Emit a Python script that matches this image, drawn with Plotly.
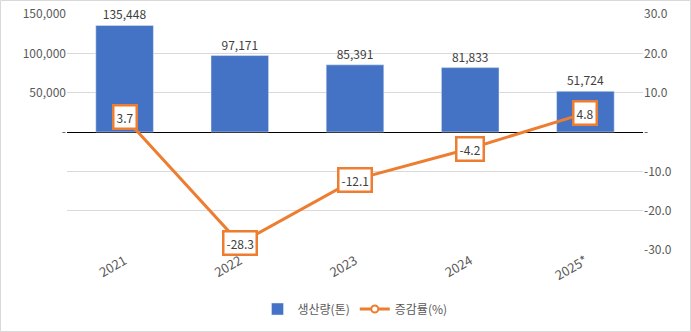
import plotly.graph_objects as go

years = ["2021", "2022", "2023", "2024", "2025*"]
production = [135448, 97171, 85391, 81833, 51724]
growth = [3.7, -28.3, -12.1, -4.2, 4.8]
left_ticks = [-150000, -100000, -50000, 0, 50000, 100000, 150000]
left_ticktext = ["", "", "", "-", "50,000", "100,000", "150,000"]
right_ticks = [-30, -20, -10, 0, 10, 20, 30]
right_ticktext = ["-30.0", "-20.0", "-10.0", "-", "10.0", "20.0", "30.0"]

FONT = "Noto Sans CJK KR, Noto Sans, sans-serif"
GRAY = "#595959"
BLUE = "#4472C4"
ORANGE = "#ED7D31"

xi = list(range(len(years)))

fig = go.Figure()
fig.add_trace(go.Bar(
    x=xi, y=production, name="생산량(톤)", marker_color=BLUE, width=0.5,
    text=[f"{v:,}" for v in production], textposition="outside",
    textfont=dict(size=12, color="#404040", family=FONT), cliponaxis=False,
))
fig.add_trace(go.Scatter(
    x=xi, y=growth, name="증감률(%)", yaxis="y2", mode="lines+markers",
    line=dict(color=ORANGE, width=3),
    marker=dict(size=7, color="white", line=dict(color=ORANGE, width=2)),
))
for x, v in zip(xi, growth):
    fig.add_annotation(
        x=x, y=v, xref="x", yref="y2", text=f"{v}", showarrow=False,
        bgcolor="white", bordercolor=ORANGE, borderwidth=2.5, borderpad=2,
        font=dict(size=12, color="#404040", family=FONT),
    )

W, H = 691, 332
ml, mr, mt, mb = 67, 48, 14, 82
pw, ph = W - ml - mr, H - mt - mb
fig.add_shape(type="rect", xref="paper", yref="paper",
              x0=-(ml - 0.5) / pw, x1=(W - ml - 0.5) / pw,
              y0=-(mb - 0.5) / ph, y1=(ph + mt - 0.5) / ph,
              line=dict(color="#D9D9D9", width=1), layer="below")

fig.update_layout(
    width=W, height=H, margin=dict(l=ml, r=mr, t=mt, b=mb, autoexpand=False),
    paper_bgcolor="white", plot_bgcolor="white",
    font=dict(family=FONT, size=12, color=GRAY),
    xaxis=dict(range=[-0.5, len(years) - 0.5], tickvals=xi, ticktext=years,
               tickangle=-30, tickfont=dict(size=13, color=GRAY), automargin=False,
               showline=False, ticks="", showgrid=False, zeroline=False),
    yaxis=dict(range=[-150000, 150000], tickvals=left_ticks, ticktext=left_ticktext,
               showgrid=True, gridcolor="#D9D9D9", gridwidth=1, automargin=False,
               zeroline=True, zerolinecolor="black", zerolinewidth=1,
               tickfont=dict(size=12, color=GRAY), ticks="", ticklen=0),
    yaxis2=dict(range=[-30, 30], tickvals=right_ticks, ticktext=right_ticktext,
                overlaying="y", side="right", showgrid=False, zeroline=False,
                automargin=False, tickfont=dict(size=12, color=GRAY)),
    legend=dict(orientation="h", x=0.5, xanchor="center", y=-59 / ph, yanchor="middle",
                font=dict(size=12, color=GRAY)),
    showlegend=True,
)
fig.write_html("out.html")
